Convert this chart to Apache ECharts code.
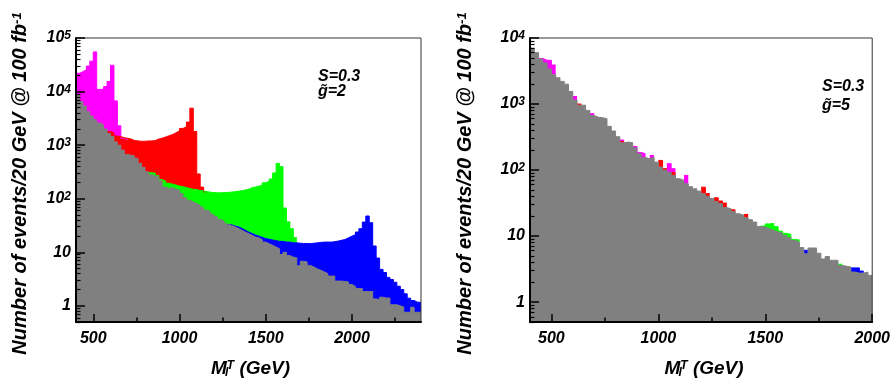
<!DOCTYPE html>
<html><head><meta charset="utf-8">
<script src="https://cdn.jsdelivr.net/npm/echarts@6/dist/echarts.min.js"></script>
<style>html,body{margin:0;padding:0;background:#fff}#c{width:893px;height:381px}</style>
</head><body><div id="c"></div>
<script>
// ---------- data (events per 20 GeV bin) ----------
const binWidth = 20;
const massMinL = 400, massMaxL = 2400;
const massMinR = 400, massMaxR = 2000;

// Left panel (g~ = 2): SM background, 100 bins from 400 GeV
const smL = [8700,6500,5400,4200,3500,3000,2600,2400,2000,1650,
  1450,1150,1000,810,670,650,630,570,460,385,
  320,280,265,260,215,165,155,162,150,145,
  126,105,94,87,81,76,69,61,57,51,
  46,41,38,34,32,30,28,26,24,22.4,
  20.8,19.2,18.7,17.2,15.5,14.5,13.5,12.5,11.7,9.1,
  10,8.7,8.1,7.9,5.6,6.8,6.6,5.7,5.3,4.9,
  4.6,4.3,4.0,3.6,3.6,2.9,2.9,2.85,2.8,2.5,
  2.3,2.1,2.1,1.85,1.85,1.85,1.35,1.3,1.45,1.4,
  1.4,1.05,1.05,1.0,0.95,0.76,0.76,0.94,0.76,0.76];
const magentaL_from = 400;
const magentaL = [22000,23500,25500,30000,37000,55000,11000,11000,12400,15400,31000,6700,2300,1340,1250];
const redL_from = 580;
const redL = [1800,1700,1480,1440,1380,1340,1300,1220,1200,1180,
  1180,1200,1200,1220,1300,1350,1420,1500,1580,1700,
  1850,2050,2200,2700,4900,1800,290,165,135];
const greenL_from = 820;
const greenL = [305,300,270,228,213,195,187,180,172,168,
  162,155,150,148,142,140,136,132,130,129,
  129,130,131,133,135,138,141,145,150,160,
  165,172,178,199,213,233,303,457,396,67,
  37,27.6,18.8];
const blueL_from = 1280;
const blueL = [33,31,30,28,26,24,22.5,21,20,19,
  18,17.5,17,16.5,16,16,15.5,15.5,15,15,
  14.8,14.6,14.6,14.5,14.8,15,15.3,15.5,15.5,15.5,
  15.8,16.2,16.8,17.3,18.7,20,21.4,23.9,27.6,36.7,
  47.6,35.7,13.1,7.8,4.8,4.2,3.4,3.1,2.76,2.33,
  2.02,1.68,1.39,1.26,1.17,1.17];

// Right panel (g~ = 5): SM background, 80 bins from 400 GeV
const smR = [7000,6000,4800,4200,3400,2800,2500,2200,2000,1550,
  1150,960,960,800,670,630,620,600,460,390,
  320,260,265,260,218,177,155,148,158,132,
  111,100,93,83,74,70,62,56,52,48,
  44,40,37,33.5,31,27,26,23.6,21.8,20.6,
  19,17.7,16.3,14.0,13.7,12.9,12.2,11.5,11.1,10.2,
  9.5,8.6,8.1,6.7,5.4,6.6,6.6,5.5,4.5,4.9,
  4.3,4.3,3.6,3.5,3.4,2.85,2.75,2.75,2.85,2.54];
const magentaR_mass = [440,460,480,500,600,680,820,880,900,920,960,1040,1060,1120];
const magentaR = [4900,4600,4600,3900,1300,715,285,228,185,177,166,125,105,83];
const redR_mass = [620,820,1000,1020,1060,1200,1220,1260,1280,1300,1340,1400];
const redR = [1000,270,140,105,92,55,44,38,34,31.6,25,21.3];
const greenR_mass = [1480,1500,1520,1540,1560,1580,1600,1620,1640,1840];
const greenR = [14.2,15.3,15.5,13.9,11.9,11.0,10.6,8.9,8.7,3.75];
const blueR_mass = [1680,1900,1920,1940];
const blueR = [6.1,3.3,3.3,2.95];

// ticks / labels
const xMajor = [500,1000,1500,2000];
const xMinorL = [750,1250,1750,2250];
const xMinorR = [750,1250,1750];
const yMajorL = [1,10,100,1000,10000,100000];
const yMajorR = [1,10,100,1000,10000];
const yLabels = ['1','10','10^2','10^3','10^4','10^5'];
const yMinL = 0.5, yMaxL = 100000, yMinR = 0.5, yMaxR = 10000;

// ---------- helpers ----------
function contiguous(from, vals){ return vals.map((v,i)=>[from+i*binWidth, v]); }
function paired(masses, vals){ return masses.map((m,i)=>[m, vals[i]]); }
// split bins into contiguous runs; each run becomes one step polyline
function runs(pairs){
  const out=[]; let cur=null;
  for(let i=0;i<pairs.length;i++){
    const x=pairs[i][0];
    if(!cur || cur[cur.length-1][0]+binWidth!==x){ cur=[]; out.push(cur); }
    cur.push(pairs[i]);
  }
  return out.map(r=>r.concat([[r[r.length-1][0]+binWidth, r[r.length-1][1]]]));
}
function minorLogTicks(lo, hi){
  const t=[0.5,0.6,0.7,0.8,0.9];
  for(let e=0;e<=5;e++) for(let m=2;m<=9;m++){ t.push(+(m*Math.pow(10,e)).toPrecision(6)); }
  return t.filter(v=>v>=lo && v<=hi);
}
const FONT='Liberation Sans';
const bi={fontFamily:FONT,fontWeight:'bold',fontStyle:'italic',color:'#000'};
function hist(name,color,pairs,xi,yi){
  return runs(pairs).map((r,k)=>({type:'line',name:name+k,xAxisIndex:xi,yAxisIndex:yi,data:r,step:'end',
    symbol:'none',showSymbol:false,silent:true,animation:false,
    lineStyle:{width:1,color},itemStyle:{color},areaStyle:{color,opacity:1,origin:'start'},z:2}));
}
function yLabelFmt(v){
  const k=Math.round(Math.log10(v));
  const s=yLabels[k];
  if(s.indexOf('^')<0) return '{b|'+s+'}';
  const p=s.split('^');
  return '{b|'+p[0]+'}{s|'+p[1]+'}';
}
const yRich={b:Object.assign({},bi,{fontSize:16,lineHeight:16,verticalAlign:'middle'}),
             s:Object.assign({},bi,{fontSize:12,lineHeight:12,verticalAlign:'top',padding:[0,0,10,0]})};

function xAxes(gi,min,max,minor){
  return [
    {type:'value',gridIndex:gi,min,max,position:'bottom',z:5,
     axisLine:{show:true,onZero:false,lineStyle:{color:'#000',width:2}},
     axisTick:{show:true,inside:true,length:8,lineStyle:{color:'#000',width:1.5},customValues:xMajor},
     axisLabel:{show:true,customValues:xMajor,margin:9,fontSize:16,fontFamily:FONT,fontWeight:'bold',fontStyle:'italic',color:'#000',formatter:v=>String(Math.round(v))},
     splitLine:{show:false}},
    {type:'value',gridIndex:gi,min,max,position:'bottom',z:5,
     axisLine:{show:false,onZero:false},
     axisTick:{show:true,inside:true,length:4.5,lineStyle:{color:'#000',width:1.5},customValues:minor},
     axisLabel:{show:false},splitLine:{show:false}}
  ];
}
function yAxes(gi,min,max,major){
  return [
    {type:'log',logBase:10,gridIndex:gi,min,max,position:'left',z:5,
     axisLine:{show:true,onZero:false,lineStyle:{color:'#000',width:2}},
     axisTick:{show:true,inside:true,length:9,lineStyle:{color:'#000',width:1.5},customValues:major},
     axisLabel:{show:true,customValues:major,margin:5,formatter:yLabelFmt,rich:yRich},
     splitLine:{show:false}},
    {type:'log',logBase:10,gridIndex:gi,min,max,position:'left',z:5,
     axisLine:{show:false,onZero:false},
     axisTick:{show:true,inside:true,length:4.5,lineStyle:{color:'#000',width:1.2},customValues:minorLogTicks(min,max)},
     axisLabel:{show:false},splitLine:{show:false}}
  ];
}

const titleRich={t:Object.assign({},bi,{fontSize:20,lineHeight:20,verticalAlign:'middle'}),
                 s:Object.assign({},bi,{fontSize:13,lineHeight:13,verticalAlign:'top',padding:[0,0,11,0]})};
const xtRich={m:Object.assign({},bi,{fontSize:19,lineHeight:19,verticalAlign:'middle'}),
              l:Object.assign({},bi,{fontSize:12,lineHeight:12,verticalAlign:'bottom',width:0.1,padding:[9,0,0,0]}),
              u:Object.assign({},bi,{fontSize:12,lineHeight:12,verticalAlign:'top',padding:[0,0,9,0]})};
function txt(x,y,text,rich,opts){
  return Object.assign({type:'text',x,y,z:10,silent:true,style:{text,rich,align:'center',verticalAlign:'middle'}},opts||{});
}
const annRich={a:Object.assign({},bi,{fontSize:16})};

const chart=echarts.init(document.getElementById('c'),null,{renderer:'canvas'});
chart.setOption({
  animation:false,
  backgroundColor:'#fff',
  grid:[
    {left:76,top:38,width:345,height:284,show:true,borderColor:'#333',borderWidth:1,z:3,backgroundColor:'transparent'},
    {left:530,top:38,width:346,height:284,show:true,borderColor:'#333',borderWidth:1,z:3,backgroundColor:'transparent'}
  ],
  xAxis:[].concat(xAxes(0,massMinL,massMaxL,xMinorL),xAxes(1,massMinR,massMaxR,xMinorR)),
  yAxis:[].concat(yAxes(0,yMinL,yMaxL,yMajorL),yAxes(1,yMinR,yMaxR,yMajorR)),
  series:[].concat(
    hist('magentaL','#ff00ff',contiguous(magentaL_from,magentaL),0,0),
    hist('redL','#ff0000',contiguous(redL_from,redL),0,0),
    hist('greenL','#00ff00',contiguous(greenL_from,greenL),0,0),
    hist('blueL','#0000ff',contiguous(blueL_from,blueL),0,0),
    hist('smL','#808080',contiguous(massMinL,smL),0,0),
    hist('magentaR','#ff00ff',paired(magentaR_mass,magentaR),2,2),
    hist('redR','#ff0000',paired(redR_mass,redR),2,2),
    hist('greenR','#00ff00',paired(greenR_mass,greenR),2,2),
    hist('blueR','#0000ff',paired(blueR_mass,blueR),2,2),
    hist('smR','#808080',contiguous(massMinR,smR),2,2)
  ),
  graphic:[
    txt(20.5,183.5,'{t|Number of events/20 GeV @ 100 fb}{s|-1}',titleRich,{rotation:Math.PI/2}),
    txt(465.5,183.5,'{t|Number of events/20 GeV @ 100 fb}{s|-1}',titleRich,{rotation:Math.PI/2}),
    txt(250.5,369,'{m|M}{l|l}{u|T}{m| (GeV)}',xtRich),
    txt(704,369,'{m|M}{l|l}{u|T}{m| (GeV)}',xtRich),
    {type:'text',x:318,y:77,z:10,silent:true,style:{text:'{a|S=0.3}',rich:annRich,align:'left',verticalAlign:'middle'}},
    {type:'text',x:318,y:92,z:10,silent:true,style:{text:'{a|g\u0303=2}',rich:annRich,align:'left',verticalAlign:'middle'}},
    {type:'text',x:822,y:87,z:10,silent:true,style:{text:'{a|S=0.3}',rich:annRich,align:'left',verticalAlign:'middle'}},
    {type:'text',x:822,y:106,z:10,silent:true,style:{text:'{a|g\u0303=5}',rich:annRich,align:'left',verticalAlign:'middle'}}
  ]
});
</script></body></html>
